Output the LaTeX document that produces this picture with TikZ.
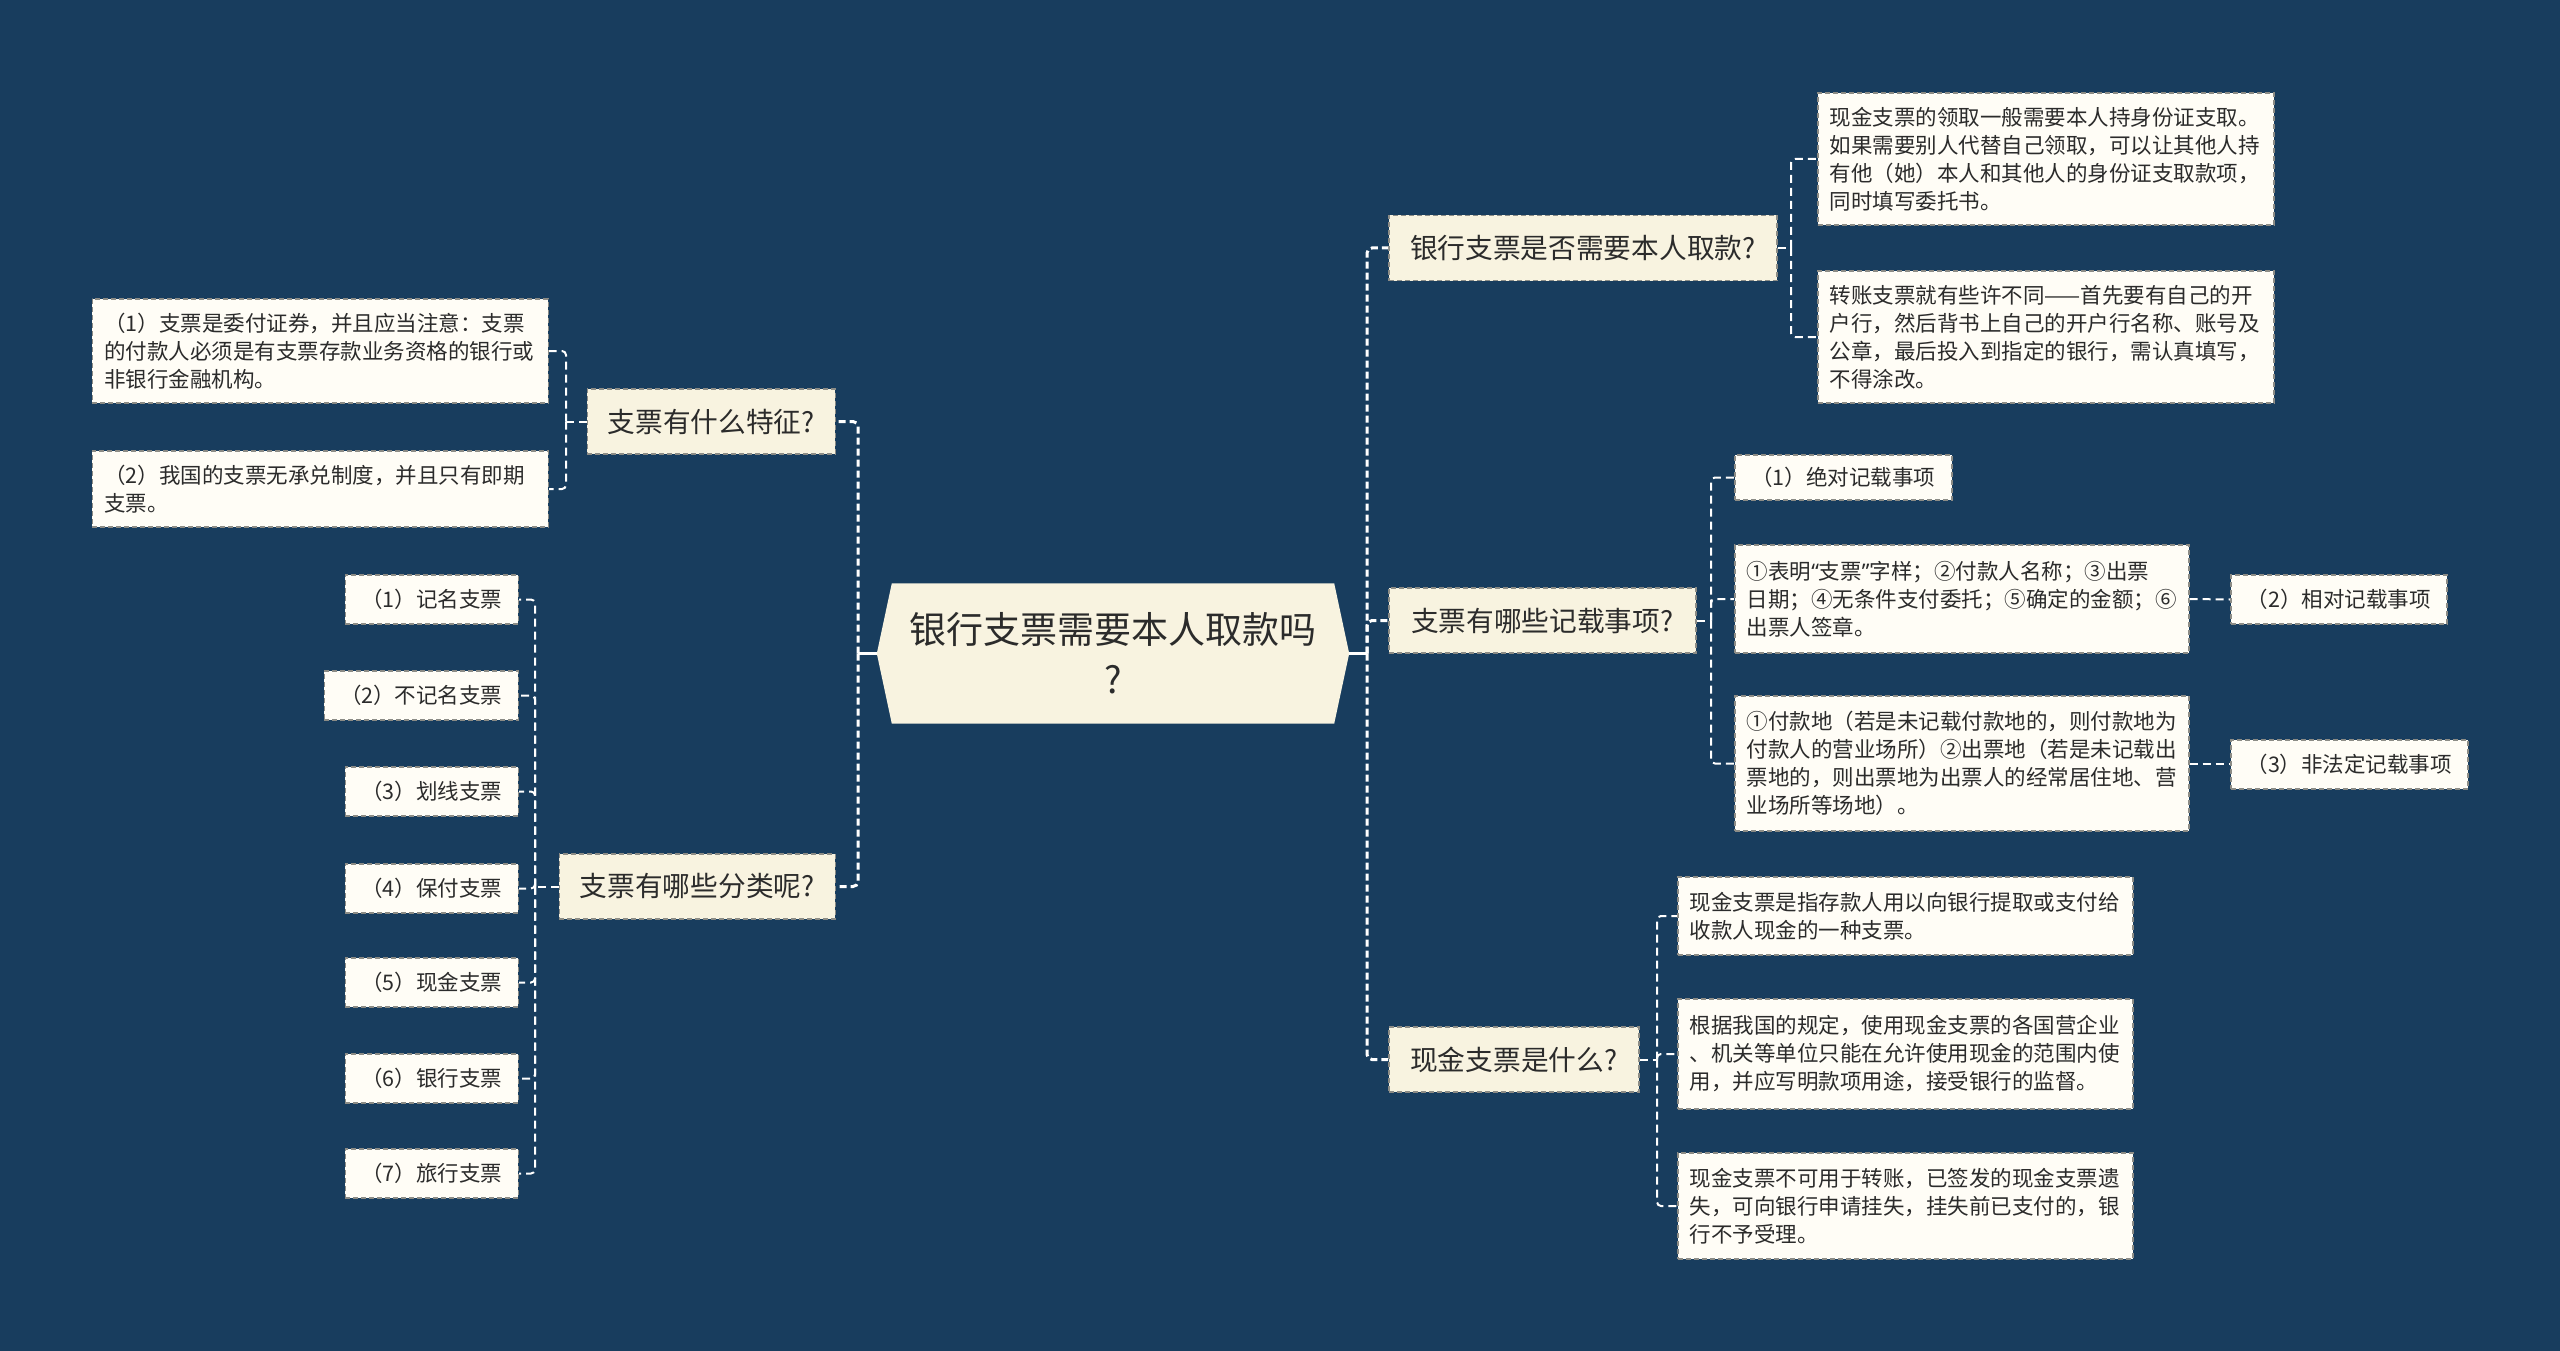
\documentclass[tikz,border=0pt]{standalone}
\usepackage{fontspec}
\newfontfamily\cjk{Noto Sans CJK SC}
\newfontfamily\latq{Noto Sans}
\usetikzlibrary{backgrounds}
\definecolor{bg}{HTML}{183D5E}
\definecolor{cream}{HTML}{F8F3E0}
\definecolor{leaffill}{HTML}{FFFDF6}
\definecolor{txt}{HTML}{2B2B2B}
\definecolor{bord}{HTML}{8C8C86}
\begin{document}
\begin{tikzpicture}[x=1pt,y=-1pt,
  rootnode/.style={font=\cjk\fontsize{37}{50}\selectfont, text=txt, align=center, minimum width=472pt, minimum height=140pt, inner sep=0pt},
  branch/.style={font=\cjk\fontsize{27.7}{34}\selectfont, text=txt, fill=cream, draw=bord, dash pattern=on 5pt off 3pt, line width=1.5pt, minimum height=65pt, inner sep=0pt, align=center},
  leaf/.style={font=\cjk\fontsize{21.5}{28}\selectfont, text=txt, fill=leaffill, draw=bord, dash pattern=on 5pt off 3pt, line width=1.5pt, inner xsep=12pt, inner ysep=0pt, align=left},
  tag/.style={font=\cjk\fontsize{21.5}{28}\selectfont, text=txt, fill=leaffill, draw=bord, dash pattern=on 5pt off 3pt, line width=1.5pt, inner sep=0pt, align=center},
  solidc/.style={draw=white, line width=3pt},
  mainc/.style={draw=white, line width=3pt, dash pattern=on 7pt off 4pt, rounded corners=5pt},
  subc/.style={draw=white, line width=2pt, dash pattern=on 8pt off 5pt, rounded corners=4pt}
]
\useasboundingbox (0,0) rectangle (2560,1351);

% root
\node[rootnode] (root) at (1113,653.5) {银行支票需要本人取款吗\\?};

% branches
\node[branch, anchor=west, minimum width=388pt] (A) at (1388,248) {银行支票是否需要本人取款?};
\node[branch, anchor=west, minimum width=307pt] (B) at (1388,620.5) {支票有哪些记载事项?};
\node[branch, anchor=west, minimum width=250pt] (C) at (1388,1059.5) {现金支票是什么?};
\node[branch, anchor=east, minimum width=248pt] (D) at (836,421.5) {支票有什么特征?};
\node[branch, anchor=east, minimum width=276pt] (E) at (836,886.5) {支票有哪些分类呢?};

% A leaves
\node[leaf, anchor=west, text width=432pt, minimum height=132pt] (A1) at (1817,159) {现金支票的领取一般需要本人持身份证支取。\\如果需要别人代替自己领取，可以让其他人持\\有他（她）本人和其他人的身份证支取款项，\\同时填写委托书。};
\node[leaf, anchor=west, text width=432pt, minimum height=132pt] (A2) at (1817,337) {转账支票就有些许不同——首先要有自己的开\\户行，然后背书上自己的开户行名称、账号及\\公章，最后投入到指定的银行，需认真填写，\\不得涂改。};

% B leaves
\node[tag, anchor=west, minimum width=217pt, minimum height=45pt] (B1) at (1734,477.5) {（1）绝对记载事项};
\node[leaf, anchor=west, text width=430pt, minimum height=108pt] (B2) at (1734,599) {①表明{\latq “}支票{\latq ”}字样；②付款人名称；③出票\\日期；④无条件支付委托；⑤确定的金额；⑥\\出票人签章。};
\node[leaf, anchor=west, text width=430pt, minimum height=135pt] (B3) at (1734,763.5) {①付款地（若是未记载付款地的，则付款地为\\付款人的营业场所）②出票地（若是未记载出\\票地的，则出票地为出票人的经常居住地、营\\业场所等场地）。};
\node[tag, anchor=west, minimum width=216pt, minimum height=49pt] (B2r) at (2230,599.5) {（2）相对记载事项};
\node[tag, anchor=west, minimum width=237pt, minimum height=49pt] (B3r) at (2230,764.5) {（3）非法定记载事项};

% C leaves
\node[leaf, anchor=west, text width=431pt, minimum height=78pt] (C1) at (1677,916) {现金支票是指存款人用以向银行提取或支付给\\收款人现金的一种支票。};
\node[leaf, anchor=west, text width=431pt, minimum height=110pt] (C2) at (1677,1054) {根据我国的规定，使用现金支票的各国营企业\\、机关等单位只能在允许使用现金的范围内使\\用，并应写明款项用途，接受银行的监督。};
\node[leaf, anchor=west, text width=431pt, minimum height=106pt] (C3) at (1677,1206) {现金支票不可用于转账，已签发的现金支票遗\\失，可向银行申请挂失，挂失前已支付的，银\\行不予受理。};

% D leaves
\node[leaf, anchor=east, text width=432pt, minimum height=104pt] (D1) at (549,351) {（1）支票是委付证券，并且应当注意：支票\\的付款人必须是有支票存款业务资格的银行或\\非银行金融机构。};
\node[leaf, anchor=east, text width=432pt, minimum height=76pt] (D2) at (549,489) {（2）我国的支票无承兑制度，并且只有即期\\支票。};

% E leaves
\node[tag, anchor=east, minimum width=173pt, minimum height=49pt] (E1) at (519,599.5) {（1）记名支票};
\node[tag, anchor=east, minimum width=194pt, minimum height=49pt] (E2) at (519,695.5) {（2）不记名支票};
\node[tag, anchor=east, minimum width=173pt, minimum height=49pt] (E3) at (519,791.5) {（3）划线支票};
\node[tag, anchor=east, minimum width=173pt, minimum height=49pt] (E4) at (519,888.5) {（4）保付支票};
\node[tag, anchor=east, minimum width=173pt, minimum height=49pt] (E5) at (519,982.5) {（5）现金支票};
\node[tag, anchor=east, minimum width=173pt, minimum height=49pt] (E6) at (519,1078.5) {（6）银行支票};
\node[tag, anchor=east, minimum width=173pt, minimum height=49pt] (E7) at (519,1173.5) {（7）旅行支票};

\begin{pgfonlayer}{background}
\fill[bg] (0,0) rectangle (2560,1351);
\fill[cream] (root.west) -- ([xshift=15pt]root.north west) -- ([xshift=-15pt]root.north east) -- (root.east) -- ([xshift=-15pt]root.south east) -- ([xshift=15pt]root.south west) -- cycle;
\end{pgfonlayer}

% trunk coordinates
\coordinate (tR) at (1367,653.5);
\coordinate (tL) at (858,653.5);
\coordinate (aT) at (1791,248);
\coordinate (bT) at (1711,620.5);
\coordinate (cT) at (1657,1059.5);
\coordinate (dT) at (566,421.5);
\coordinate (eT) at (535,886.5);

% root connectors
\draw[solidc] (root.east) -- (tR);
\draw[solidc] (root.west) -- (tL);
\draw[mainc] (tR) |- (A.west);
\draw[mainc] (tR) |- (B.west);
\draw[mainc] (tR) |- (C.west);
\draw[mainc] (tL) |- (D.east);
\draw[mainc] (tL) |- (E.east);

% branch connectors
\draw[subc] (A.east) -- (aT);
\draw[subc] (aT) |- (A1.west);
\draw[subc] (aT) |- (A2.west);

\draw[subc] (B.east) -- (bT);
\draw[subc] (bT) |- (B1.west);
\draw[subc] (bT) |- (B2.west);
\draw[subc] (bT) |- (B3.west);
\draw[subc] (B2.east) -- (B2r.west);
\draw[subc] (B3.east) -- (B3r.west |- B3.east);

\draw[subc] (C.east) -- (cT);
\draw[subc] (cT) |- (C1.west);
\draw[subc] (cT) |- (C2.west);
\draw[subc] (cT) |- (C3.west);

\draw[subc] (D.west) -- (dT);
\draw[subc] (dT) |- (D1.east);
\draw[subc] (dT) |- (D2.east);

\draw[subc] (E.west) -- (eT);
\draw[subc] (eT) |- (E1.east);
\draw[subc] (eT) |- (E2.east);
\draw[subc] (eT) |- (E3.east);
\draw[subc] (eT) |- (E4.east);
\draw[subc] (eT) |- (E5.east);
\draw[subc] (eT) |- (E6.east);
\draw[subc] (eT) |- (E7.east);
\end{tikzpicture}
\end{document}
